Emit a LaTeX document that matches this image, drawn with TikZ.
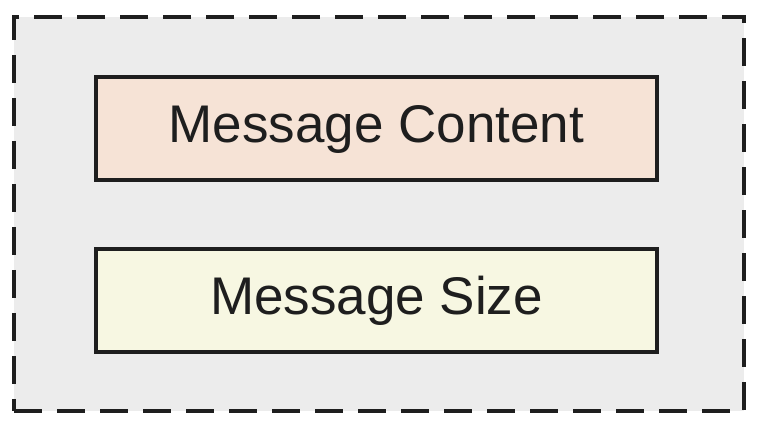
\documentclass[tikz,border=0pt]{standalone}
\usepackage{fontspec}
\setmainfont{Liberation Sans}
\definecolor{panelgray}{HTML}{ECECEC}
\definecolor{peach}{HTML}{F6E3D6}
\definecolor{cream}{HTML}{F7F7E2}
\definecolor{ink}{HTML}{1E1E1E}
\begin{document}
\begin{tikzpicture}[x=1pt,y=-1pt,
  outerframe/.style={draw=ink,fill=panelgray,line width=4.5pt,dash pattern=on 28pt off 15pt},
  fieldbox/.style={draw=ink,line width=4pt,minimum width=561pt,minimum height=103pt,
    text=ink,font=\fontsize{53}{60}\selectfont,inner sep=0pt}]
  \useasboundingbox[fill=white] (0,0) rectangle (780,446);
  \node[outerframe,minimum width=730pt,minimum height=394pt,inner sep=0pt] (frame) at (379,214) {};
  \node[fieldbox,fill=peach] (content) at (376.5,129) {Message Content};
  \node[fieldbox,fill=cream] (size) at (376.5,301) {Message Size};
\end{tikzpicture}
\end{document}
